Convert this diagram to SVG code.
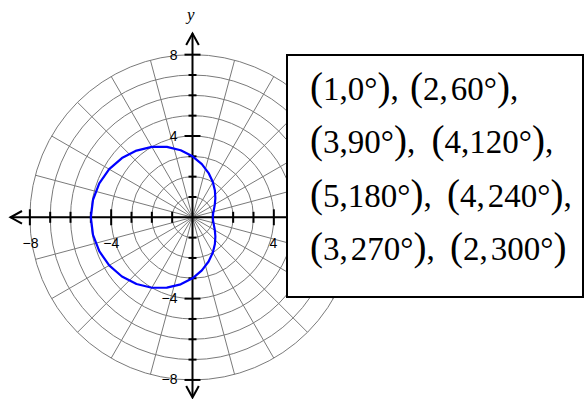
<svg xmlns="http://www.w3.org/2000/svg" width="585" height="399" viewBox="0 0 585 399">
<style>
.grid{fill:none;stroke:#7a7a7a;stroke-width:1}
.axis{fill:none;stroke:#000;stroke-width:2}
.tick{stroke:#000;stroke-width:2}
.lbl{font-family:"Liberation Sans",Arial,sans-serif;font-size:14px;fill:#000}
.pt{font-family:"Liberation Serif","Times New Roman",serif;font-size:33px;fill:#000}
.p{font-size:39px}
</style>
<rect width="585" height="399" fill="#fff"/>
<g id="grid" transform="translate(192.5,217.3)" class="grid">
<circle r="20.33"/><circle r="40.66"/><circle r="60.99"/><circle r="81.32"/>
<circle r="101.65"/><circle r="121.98"/><circle r="142.31"/><circle r="162.64"/>
<line x1="-162.64" y1="0" x2="162.64" y2="0"/>
<line x1="-157.10" y1="-42.09" x2="157.10" y2="42.09"/>
<line x1="-140.85" y1="-81.32" x2="140.85" y2="81.32"/>
<line x1="-115" y1="-115" x2="115" y2="115"/>
<line x1="-81.32" y1="-140.85" x2="81.32" y2="140.85"/>
<line x1="-42.09" y1="-157.10" x2="42.09" y2="157.10"/>
<line x1="0" y1="-162.64" x2="0" y2="162.64"/>
<line x1="42.09" y1="-157.10" x2="-42.09" y2="157.10"/>
<line x1="81.32" y1="-140.85" x2="-81.32" y2="140.85"/>
<line x1="115" y1="-115" x2="-115" y2="115"/>
<line x1="140.85" y1="-81.32" x2="-140.85" y2="81.32"/>
<line x1="157.10" y1="-42.09" x2="-157.10" y2="42.09"/>
</g>
<g id="axes">
<line class="axis" x1="10.5" y1="217.3" x2="300" y2="217.3"/>
<polyline class="axis" points="22,211 10.5,217.3 22,223.6"/>
<line class="axis" x1="192.5" y1="33.5" x2="192.5" y2="397"/>
<polyline class="axis" points="186.2,45 192.5,33.5 198.8,45"/>
<polyline class="axis" points="186.2,386 192.5,397.5 198.8,386"/>
<g class="tick">
<line x1="184.5" y1="54.66" x2="200.5" y2="54.66"/>
<line x1="188.5" y1="74.99" x2="196.5" y2="74.99"/>
<line x1="188.5" y1="95.32" x2="196.5" y2="95.32"/>
<line x1="188.5" y1="115.65" x2="196.5" y2="115.65"/>
<line x1="184.5" y1="135.98" x2="200.5" y2="135.98"/>
<line x1="188.5" y1="156.31" x2="196.5" y2="156.31"/>
<line x1="188.5" y1="176.64" x2="196.5" y2="176.64"/>
<line x1="188.5" y1="196.97" x2="196.5" y2="196.97"/>
<line x1="188.5" y1="237.63" x2="196.5" y2="237.63"/>
<line x1="188.5" y1="257.96" x2="196.5" y2="257.96"/>
<line x1="188.5" y1="278.29" x2="196.5" y2="278.29"/>
<line x1="184.5" y1="298.62" x2="200.5" y2="298.62"/>
<line x1="188.5" y1="318.95" x2="196.5" y2="318.95"/>
<line x1="188.5" y1="339.28" x2="196.5" y2="339.28"/>
<line x1="188.5" y1="359.61" x2="196.5" y2="359.61"/>
<line x1="184.5" y1="379.94" x2="200.5" y2="379.94"/>
<line x1="29.86" y1="209.3" x2="29.86" y2="225.3"/>
<line x1="50.19" y1="211.8" x2="50.19" y2="222.8"/>
<line x1="70.52" y1="211.8" x2="70.52" y2="222.8"/>
<line x1="90.85" y1="211.8" x2="90.85" y2="222.8"/>
<line x1="111.18" y1="209.3" x2="111.18" y2="225.3"/>
<line x1="131.51" y1="211.8" x2="131.51" y2="222.8"/>
<line x1="151.84" y1="211.8" x2="151.84" y2="222.8"/>
<line x1="172.17" y1="211.8" x2="172.17" y2="222.8"/>
<line x1="212.83" y1="211.8" x2="212.83" y2="222.8"/>
<line x1="233.16" y1="211.8" x2="233.16" y2="222.8"/>
<line x1="253.49" y1="211.8" x2="253.49" y2="222.8"/>
<line x1="273.82" y1="209.3" x2="273.82" y2="225.3"/>
</g>
<text class="lbl" x="177.5" y="60" text-anchor="end">8</text>
<text class="lbl" x="177.5" y="141" text-anchor="end">4</text>
<text class="lbl" x="177.5" y="303" text-anchor="end">−4</text>
<text class="lbl" x="177.5" y="384" text-anchor="end">−8</text>
<text class="lbl" x="30.5" y="248" text-anchor="middle">−8</text>
<text class="lbl" x="111.3" y="248" text-anchor="middle">−4</text>
<text class="lbl" x="273.5" y="248" text-anchor="middle">4</text>
<text x="187" y="20" style="font-family:'Liberation Serif','Times New Roman',serif;font-style:italic;font-size:17px">y</text>
</g>
<g id="curve">
<polyline fill="none" stroke="#0000ff" stroke-width="2.2" stroke-linejoin="round" points="212.83,217.3 213.13,213.66 213.91,209.51 214.82,204.41 215.36,198.12 214.90,190.60 212.83,182.09 208.60,173.06 201.86,164.19 192.5,156.31 180.69,150.28 166.89,146.92 151.84,146.87 136.49,150.56 121.92,158.07 109.19,169.20 99.28,183.37 93.00,199.76 90.85,217.3 93.00,234.84 99.28,251.23 109.19,265.40 121.92,276.53 136.49,284.04 151.84,287.73 166.89,287.68 180.69,284.32 192.5,278.29 201.86,270.41 208.60,261.54 212.83,252.51 214.90,244.00 215.36,236.48 214.82,230.19 213.91,225.09 213.13,220.94 212.83,217.3"/>
</g>
<g id="points-box">
<rect x="287" y="55" width="296" height="242" fill="#fff" stroke="#000" stroke-width="2"/>
<text class="pt" x="310" y="99.5"><tspan class="p">(</tspan>1,0°<tspan class="p">)</tspan>,</text>
<text class="pt" x="410" y="99.5"><tspan class="p">(</tspan>2,<tspan dx="3">60°</tspan><tspan class="p">)</tspan>,</text>
<text class="pt" x="310" y="153"><tspan class="p">(</tspan>3,90°<tspan class="p">)</tspan>,</text>
<text class="pt" x="431.5" y="153"><tspan class="p">(</tspan>4,120°<tspan class="p">)</tspan>,</text>
<text class="pt" x="310" y="206.6"><tspan class="p">(</tspan>5,180°<tspan class="p">)</tspan>,</text>
<text class="pt" x="447" y="206.6"><tspan class="p">(</tspan>4,<tspan dx="3">240°</tspan><tspan class="p">)</tspan>,</text>
<text class="pt" x="310" y="260"><tspan class="p">(</tspan>3,<tspan dx="3">270°</tspan><tspan class="p">)</tspan>,</text>
<text class="pt" x="450" y="260"><tspan class="p">(</tspan>2,<tspan dx="3">300°</tspan><tspan class="p">)</tspan></text>
</g>
</svg>
